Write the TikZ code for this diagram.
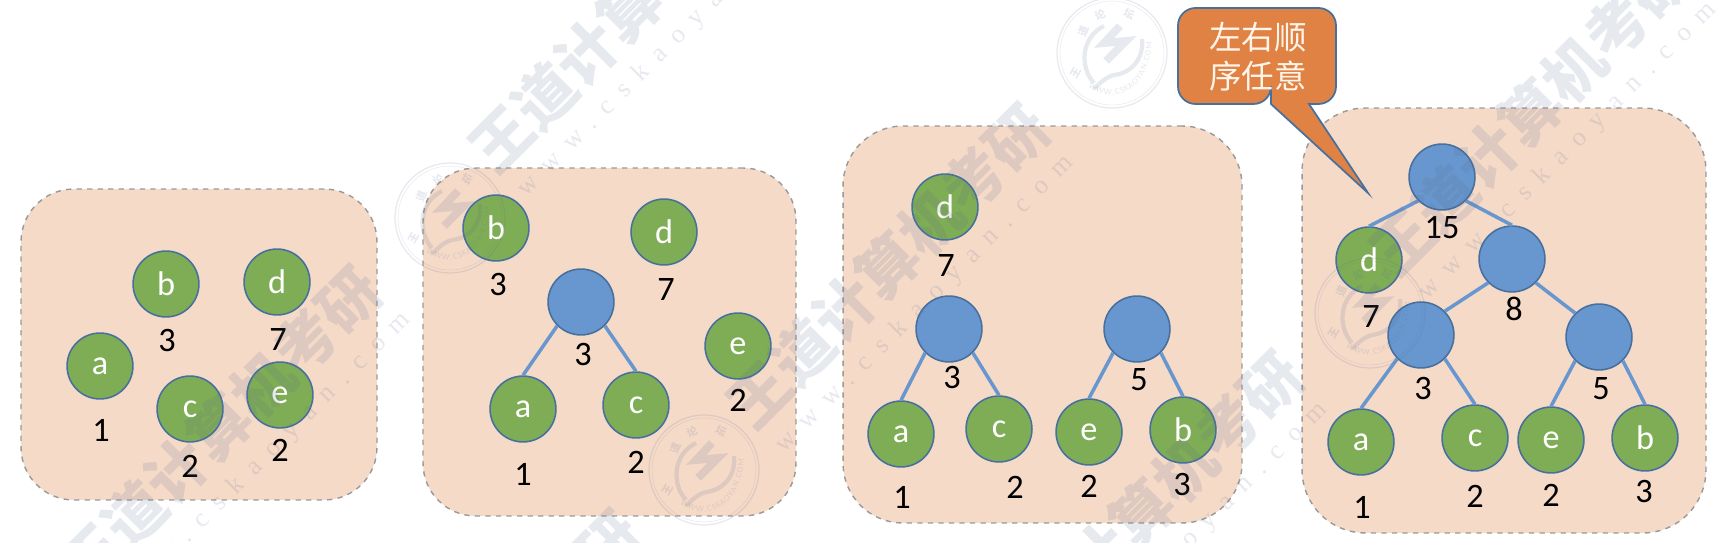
\documentclass[tikz,border=0pt]{standalone}
\usepackage{fontspec}
\setmainfont{Carlito}
\newfontfamily\cjkfont{Noto Sans CJK SC}
\newfontfamily\urlfont{Liberation Serif}[LetterSpace=50]
\usetikzlibrary{decorations.text}
\definecolor{panelfill}{HTML}{F5DAC8}
\definecolor{leafgreen}{HTML}{7FAD55}
\definecolor{innerblue}{HTML}{6797CE}
\definecolor{ringblue}{HTML}{47709F}
\definecolor{calloutfill}{HTML}{E08243}
\definecolor{wmink}{HTML}{5A6A90}
\tikzset{
  panel/.style={draw=black!40, dashed, fill=panelfill, line width=0.8pt, rounded corners=30pt, inner sep=0pt},
  leaf/.style={circle, draw=ringblue, fill=leafgreen, line width=0.9pt, minimum size=37.5pt, inner sep=0pt, text=white, font=\fontsize{19.5}{19.5}\selectfont},
  inner/.style={leaf, fill=innerblue},
  num/.style={inner sep=0pt, font=\fontsize{19.5}{19.5}\selectfont},
  edge/.style={draw=innerblue, line width=2pt},
  calloutbox/.style={draw=ringblue, fill=calloutfill, line width=1pt},
  wmtext/.style={rotate=45, inner sep=0pt, text=wmink, opacity=0.15, font=\cjkfont\bfseries\fontsize{34.5}{34.5}\selectfont},
  wmurl/.style={rotate=45, inner sep=0pt, text=wmink, opacity=0.15, font=\urlfont\fontsize{15}{15}\selectfont},
  wmchar/.style={inner sep=0pt, text=wmink, font=\cjkfont\bfseries\fontsize{6}{6}\selectfont},
  pics/wmseal/.style={code={
    \begin{scope}[opacity=0.15, draw=wmink]
      \draw[line width=0.7pt] (0,0) circle[radius=55];
      \draw[line width=0.3pt] (0,0) circle[radius=52];
      \draw[line width=2.4pt] (-8,-27) .. controls (-32,-15) and (-32,15) .. (-18,30);
      \draw[line width=2.4pt] (30,-14) .. controls (32,5) and (20,20) .. (2,22) .. controls (-6,24) and (-12,30) .. (-18,36);
      \draw[line width=4.5pt] (8,-27) -- (-8,-10) -- (14,-12) -- (-6,8);
      \node[wmchar, rotate=60] (sealw) at (-36,20) {王};
      \node[wmchar, rotate=70] (seald) at (-28,-22) {道};
      \node[wmchar, rotate=20] (seall) at (-12,-38) {论};
      \node[wmchar, rotate=-25] (sealt) at (17,-39) {坛};
      \path[decorate, decoration={text along path, text align=fit to path,
        text={|\color{wmink}\fontsize{5}{5}\selectfont|WWW.CSKAOYAN.COM}}]
        (-24,34) .. controls (-2,52) and (37,42) .. (40,-11);
    \end{scope}
  }}
}
\begin{document}
\begin{tikzpicture}[x=0.02cm, y=-0.02cm]
  \useasboundingbox (0,0) rectangle (1723,543);
  % panels
  \node[panel, minimum width=7.12cm, minimum height=6.22cm] (p1) at (199,344.5) {};
  \node[panel, minimum width=7.46cm, minimum height=6.96cm] (p2) at (609.5,342) {};
  \node[panel, minimum width=7.98cm, minimum height=7.94cm, rounded corners=34pt] (p3) at (1042.5,324.5) {};
  \node[panel, minimum width=8.08cm, minimum height=8.5cm, rounded corners=36pt] (p4) at (1504,320.5) {};
  % first forest
  \node[leaf] (a1) at (100,366) {a};
  \node[leaf] (b1) at (166,284) {b};
  \node[leaf] (c1) at (190,409) {c};
  \node[leaf] (d1) at (277,282) {d};
  \node[leaf] (e1) at (280,395) {e};
  \node[num] (na1) at (101,430) {1};
  \node[num] (nb1) at (167,341) {3};
  \node[num] (nc1) at (190,466) {2};
  \node[num] (nd1) at (278,340) {7};
  \node[num] (ne1) at (280,450) {2};
  % second forest
  \node[leaf] (b2) at (496,228) {b};
  \node[leaf] (d2) at (664,232) {d};
  \node[leaf] (e2) at (738,346) {e};
  \node[inner] (h2) at (581,302) {};
  \node[leaf] (a2) at (523,409) {a};
  \node[leaf] (c2) at (636,405) {c};
  \draw[edge] (h2.south west) -- (a2.north);
  \draw[edge] (h2.south east) -- (c2.north);
  \node[num] (nb2) at (498,285) {3};
  \node[num] (nd2) at (666,290) {7};
  \node[num] (nh2) at (583,355) {3};
  \node[num] (ne2) at (738,400) {2};
  \node[num] (na2) at (523,474) {1};
  \node[num] (nc2) at (636,462) {2};
  % third forest
  \node[leaf] (d3) at (945,207) {d};
  \node[inner] (h3) at (949,329) {};
  \node[inner] (k3) at (1137,329) {};
  \node[leaf] (a3) at (901,434) {a};
  \node[leaf] (c3) at (999,429) {c};
  \node[leaf] (e3) at (1089,432) {e};
  \node[leaf] (b3) at (1183,430) {b};
  \draw[edge] (h3.south west) -- (a3.north);
  \draw[edge] (h3.south east) -- (c3.north);
  \draw[edge] (k3.south west) -- (e3.north);
  \draw[edge] (k3.south east) -- (b3.north);
  \node[num] (nd3) at (946,266) {7};
  \node[num] (nh3) at (952,378) {3};
  \node[num] (nk3) at (1139,380) {5};
  \node[num] (na3) at (902,497) {1};
  \node[num] (nc3) at (1015,487) {2};
  \node[num] (ne3) at (1089,486) {2};
  \node[num] (nb3) at (1182,484) {3};
  % final tree
  \node[inner] (r4) at (1442,177) {};
  \node[leaf] (d4) at (1369,260) {d};
  \node[inner] (m4) at (1512,259) {};
  \node[inner] (h4) at (1421,335) {};
  \node[inner] (k4) at (1599,337) {};
  \node[leaf] (a4) at (1361,442) {a};
  \node[leaf] (c4) at (1475,438) {c};
  \node[leaf] (e4) at (1551,440) {e};
  \node[leaf] (b4) at (1645,438) {b};
  \draw[edge] (r4.south west) -- (d4.north);
  \draw[edge] (r4.south east) -- (m4.north);
  \draw[edge] (m4.south west) -- (h4.north east);
  \draw[edge] (m4.south east) -- (k4.north west);
  \draw[edge] (h4.south west) -- (a4.north);
  \draw[edge] (h4.south east) -- (c4.north);
  \draw[edge] (k4.south west) -- (e4.north);
  \draw[edge] (k4.south east) -- (b4.north);
  \node[num] (nr4) at (1442,228) {15};
  \node[num] (nd4) at (1371,317) {7};
  \node[num] (nm4) at (1514,309) {8};
  \node[num] (nh4) at (1423,389) {3};
  \node[num] (nk4) at (1601,389) {5};
  \node[num] (na4) at (1362,507) {1};
  \node[num] (nc4) at (1475,496) {2};
  \node[num] (ne4) at (1551,495) {2};
  \node[num] (nb4) at (1644,492) {3};
  % callout
  \coordinate (cb1) at (1271,104);
  \coordinate (cb2) at (1309,104);
  \coordinate (tip) at (1368,193);
  \draw[calloutbox] (cb1) -- (tip) -- (cb2) [rounded corners=10pt] -- (1336,104) -- (1336,8) -- (1178,8) -- (1178,104) -- (cb1) [sharp corners] -- cycle;
  \node[align=center, inner sep=0pt, text=white!92!orange, font=\cjkfont\fontsize{18.5}{22}\selectfont] (note) at (1258,57) {左右顺\\序任意};
  % watermark
  \node[wmtext] (wm1) at (630,10) {王道计算机考研};
  \node[wmtext] (wm2) at (888,266) {王道计算机考研};
  \node[wmtext] (wm3) at (220,428) {王道计算机考研};
  \node[wmtext] (wm4) at (1142,513) {王道计算机考研};
  \node[wmtext] (wm5) at (1531,113) {王道计算机考研};
  \node[wmtext] (wm6) at (480,672) {王道计算机考研};
  \node[wmurl] (url1) at (667,48) {www.cskaoyan.com};
  \node[wmurl] (url2) at (925,304) {www.cskaoyan.com};
  \node[wmurl] (url3) at (262,461) {www.cskaoyan.com};
  \node[wmurl] (url4) at (1179,551) {www.cskaoyan.com};
  \node[wmurl] (url5) at (1568,151) {www.cskaoyan.com};
  \pic at (1112,53) {wmseal};
  \pic at (450,218) {wmseal};
  \pic at (704,470) {wmseal};
  \pic at (1370,313) {wmseal};
\end{tikzpicture}
\end{document}
